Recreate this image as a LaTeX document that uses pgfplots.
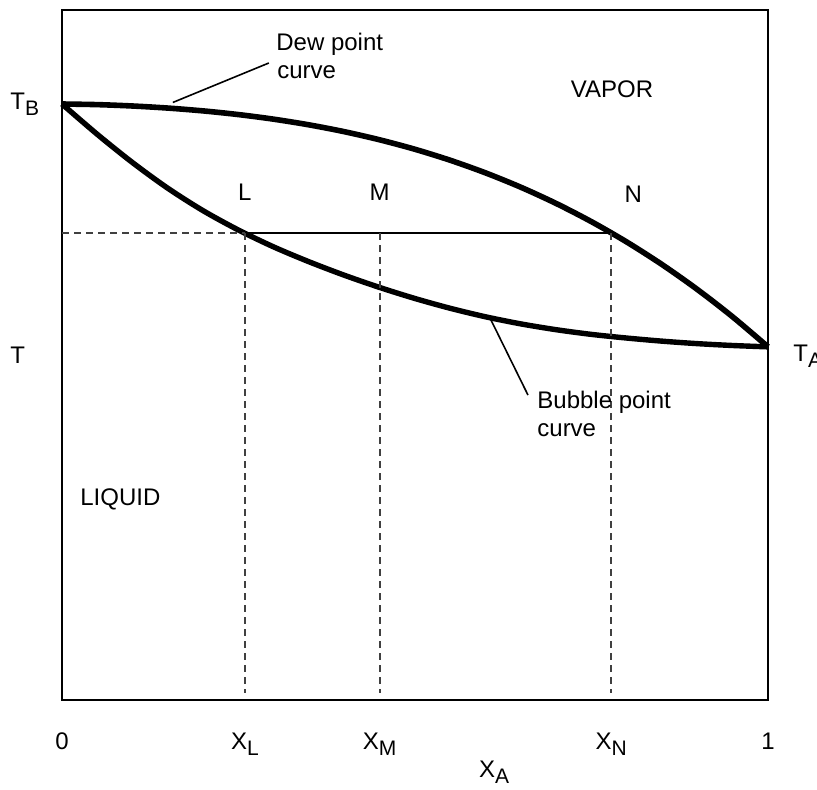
\documentclass[border=0pt]{standalone}
\usepackage{pgfplots}
\pgfplotsset{compat=1.18}
\usepackage{fontspec}
\setmainfont{Liberation Sans}
\newcommand{\sub}[2]{#1\raisebox{-3pt}{\fontsize{10.5}{12}\selectfont #2}}

\begin{document}
\fontsize{12}{14}\selectfont
\begin{tikzpicture}
\begin{axis}[
    scale only axis,
    width=353pt, height=345pt,
    xmin=0, xmax=1, ymin=0, ymax=100,
    axis line style={line width=1pt},
    xtick={0,0.259,0.450,0.778,1},
    xticklabels={0,\sub{X}{L},\sub{X}{M},\sub{X}{N},1},
    ytick=\empty,
    major tick length=0pt,
    xticklabel style={anchor=base, yshift=-24.5pt, inner sep=0pt},
    xlabel={\sub{X}{A}},
    xlabel style={at={(axis description cs:0.612,0)}, anchor=base, yshift=-38.5pt, inner sep=0pt},
    clip=false,
]

% dew point curve
\addplot[black, line width=2.8pt, smooth, line join=round] coordinates {
    (0,86.377) (0.05,86.287) (0.1,86.087) (0.15,85.786) (0.2,85.376)
    (0.25,84.843) (0.3,84.173) (0.35,83.352) (0.4,82.362) (0.45,81.185)
    (0.5,79.813) (0.55,78.220) (0.6,76.391) (0.65,74.310) (0.7,71.958)
    (0.75,69.318) (0.8,66.371) (0.85,63.102) (0.9,59.492) (0.95,55.523)
    (1,51.18)
};

% bubble point curve
\addplot[black, line width=2.7pt, smooth, line join=round] coordinates {
    (0,86.377) (0.05,81.977) (0.1,77.877) (0.15,74.157) (0.2,70.907)
    (0.25,68.107) (0.3,65.657) (0.35,63.507) (0.4,61.557) (0.45,59.787)
    (0.5,58.187) (0.55,56.767) (0.6,55.537) (0.65,54.507) (0.7,53.667)
    (0.75,52.987) (0.8,52.457) (0.85,52.007) (0.9,51.647) (0.95,51.377)
    (1,51.18)
};

% tie line L-N
\addplot[black, line width=1pt] coordinates {(0.259,67.681) (0.778,67.681)};

% dashed guides
\addplot[black!75, line width=0.9pt, dash pattern=on 3.5pt off 2.5pt] coordinates {(0,67.681) (0.259,67.681)};
\addplot[black!75, line width=0.9pt, dash pattern=on 3.5pt off 2.5pt] coordinates {(0.259,67.681) (0.259,1)};
\addplot[black!75, line width=0.9pt, dash pattern=on 3.5pt off 2.5pt] coordinates {(0.450,67.681) (0.450,1)};
\addplot[black!75, line width=0.9pt, dash pattern=on 3.5pt off 2.5pt] coordinates {(0.778,67.681) (0.778,1)};

% leader lines
\addplot[black, line width=0.8pt] coordinates {(0.157,86.60) (0.293,92.32)};
\addplot[black, line width=0.8pt] coordinates {(0.606,55.41) (0.660,44.20)};

% labels
\node[anchor=base west, inner sep=0pt] at (axis cs:0.3031,94.06) {Dew point};
\node[anchor=base west, inner sep=0pt] at (axis cs:0.3045,90.07) {curve};
\node[anchor=base, inner sep=0pt] at (axis cs:0.779,87.39) {VAPOR};
\node[anchor=base, inner sep=0pt] at (axis cs:0.259,72.32) {L};
\node[anchor=base, inner sep=0pt] at (axis cs:0.450,72.46) {M};
\node[anchor=base, inner sep=0pt] at (axis cs:0.809,72.03) {N};
\node[anchor=base west, inner sep=0pt] at (axis cs:0.0255,28.26) {LIQUID};
\node[anchor=base west, inner sep=0pt] at (axis cs:0.6728,42.32) {Bubble point};
\node[anchor=base west, inner sep=0pt] at (axis cs:0.6728,38.12) {curve};
\node[anchor=base west, inner sep=0pt] at (axis cs:-0.0737,85.51) {\sub{T}{B}};
\node[anchor=base west, inner sep=0pt] at (axis cs:-0.0737,48.84) {T};
\node[anchor=base west, inner sep=0pt] at (axis cs:1.0354,48.99) {\sub{T}{A}};
\end{axis}
\pgfresetboundingbox
\path[use as bounding box] (-31pt,-44.5pt) rectangle (377.5pt,350pt);
\end{tikzpicture}
\end{document}
